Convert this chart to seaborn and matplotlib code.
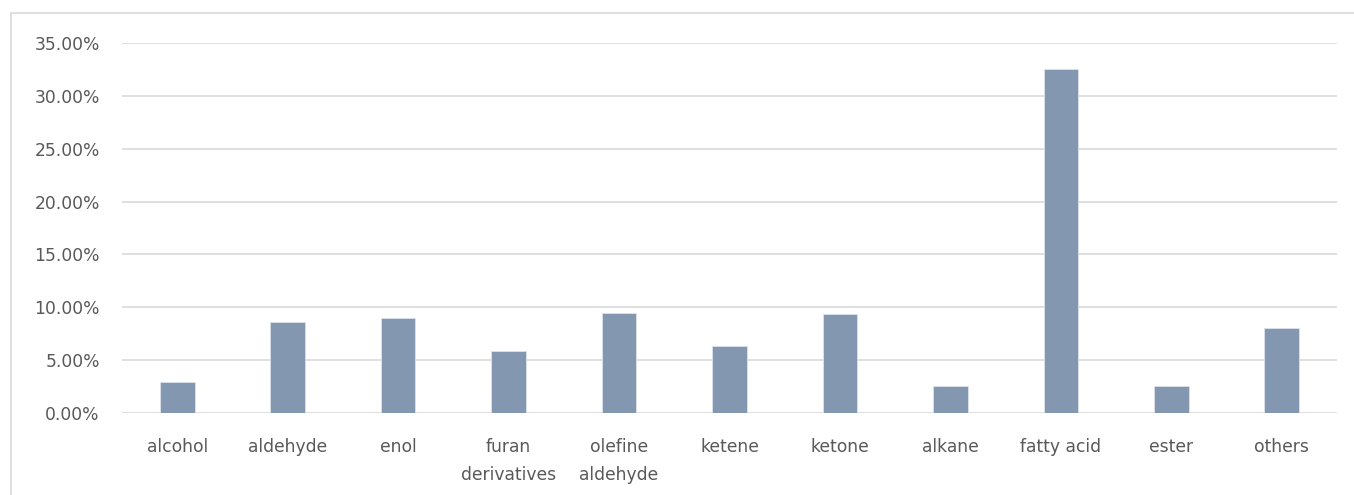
import matplotlib
matplotlib.use("Agg")
import matplotlib.pyplot as plt
import seaborn as sns
import pandas as pd
from matplotlib.patches import Rectangle
from matplotlib.ticker import FuncFormatter

# 各类化合物相对含量
categories = ["alcohol", "aldehyde", "enol", "furan\nderivatives", "olefine\naldehyde",
              "ketene", "ketone", "alkane", "fatty acid", "ester", "others"]
shares = [2.95, 8.6, 8.95, 5.88, 9.5, 6.35, 9.35, 2.6, 32.5, 2.54, 8.0]

df = pd.DataFrame({"cat": categories, "share": [v / 100 for v in shares]})

sns.set_style("white")
plt.rcParams['font.family'] = ['DejaVu Sans']

fig = plt.figure(figsize=(13.54, 4.95), dpi=100)
ax = fig.add_axes([122 / 1354, 1 - 413 / 495, (1337 - 122) / 1354, (413 - 43) / 495])

sns.barplot(data=df, x="cat", y="share", color="#8497B0", saturation=1,
            width=0.314, ax=ax, zorder=3, edgecolor="#DCE3EC", linewidth=0.6)

ax.set_ylim(0, 0.35)
ax.set_yticks([i * 0.05 for i in range(8)])
ax.yaxis.set_major_formatter(FuncFormatter(lambda v, p: "{:.2f}%".format(v * 100)))
ax.grid(axis="y", color="#D9D9D9", linewidth=1.2, zorder=0)
ax.set_axisbelow(True)
for s in ax.spines.values():
    s.set_visible(False)
ax.set_xlabel("")
ax.set_ylabel("")
ax.tick_params(axis="both", length=0, labelsize=12.3, colors="#595959")
ax.tick_params(axis="x", pad=18)
ax.tick_params(axis="y", pad=16)
for t in ax.get_xticklabels():
    t.set_linespacing(1.75)

# 外框
fig.patches.append(Rectangle((10.5 / 1354, -0.2), 1.2, 1.2 - 13 / 495,
                             transform=fig.transFigure, fill=False,
                             edgecolor="#D9D9D9", linewidth=1.2))

fig.savefig("out.png", dpi=100)
